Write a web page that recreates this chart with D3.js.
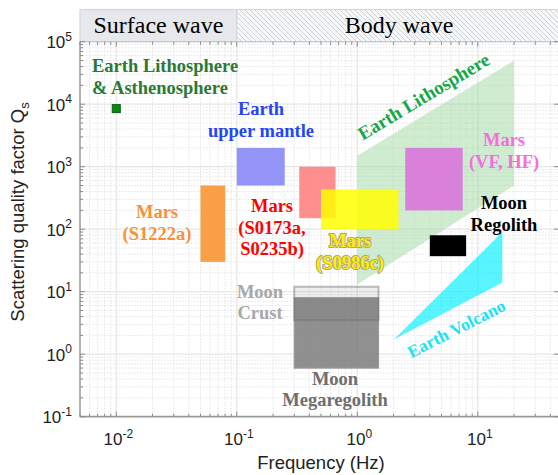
<!DOCTYPE html>
<html>
<head>
<meta charset="utf-8">
<script src="https://cdn.jsdelivr.net/npm/d3@7"></script>
<style>
  html, body { margin: 0; padding: 0; background: #fff; }
  svg { display: block; }
</style>
</head>
<body>
<svg id="chart" width="558" height="475"></svg>
<script>
// Frequency bands (Hz) and Qs ranges for each study
const rectNames = ["Earth upper mantle", "Mars (S1222a)", "Mars (S0173a, S0235b)", "Mars (S0986c)", "Mars (VF, HF)", "Moon Regolith", "Moon Megaregolith", "Moon Crust"];
const rectFreq = [[0.1, 0.25], [0.05, 0.08], [0.33, 0.66], [0.5, 2.2], [2.5, 7.5], [4, 8], [0.3, 1.5], [0.3, 1.5]];
const rectQ = [[500, 2000], [30, 500], [150, 1000], [100, 430], [200, 2000], [37, 80], [0.6, 8], [3.5, 12]];
const rectColors = ["#9494f8", "#f99a3c", "#ff7a7a", "#ffff00", "#d97adb", "#000000", "#7d7d7d", "#5a5a5a"];
const rectOpacity = [1, 0.95, 0.85, 0.85, 0.95, 1, 0.85, 0.1];

// Earth lithosphere band (frequency, Qs) polygon
const lithoFreq = [1, 20, 20, 1];
const lithoQ = [1500, 50000, 500, 13];
// Earth volcano wedge
const volcFreq = [2, 16, 16];
const volcQ = [1.7, 90, 14];
// Earth lithosphere & asthenosphere surface-wave point
const pointFreq = [0.01];
const pointQ = [8500];

const xDecades = [0.01, 0.1, 1, 10];
const xDecadeExp = ["-2", "-1", "0", "1"];
const yDecades = [0.1, 1, 10, 100, 1000, 10000, 100000];
const yDecadeExp = ["-1", "0", "1", "2", "3", "4", "5"];

const svg = d3.select("#chart");
const L = 80, R = 562, T = 41.7, B = 416.7;
const x = d3.scaleLog().domain([0.005, 50]).range([L, R]);
const y = d3.scaleLog().domain([0.1, 100000]).range([B, T]);

// minor tick values
const xMinor = [];
[0.001, 0.01, 0.1, 1, 10].forEach(d => { for (let k = 2; k <= 9; k++) { const v = d * k; if (v >= 0.005 && v <= 50) xMinor.push(v); } });
const yMinor = [];
[0.1, 1, 10, 100, 1000, 10000].forEach(d => { for (let k = 2; k <= 9; k++) yMinor.push(d * k); });

const defs = svg.append("defs");
const pat = defs.append("pattern").attr("id", "hatch").attr("patternUnits", "userSpaceOnUse")
  .attr("width", 5).attr("height", 5);
pat.append("rect").attr("width", 5).attr("height", 5).attr("fill", "#f6f7f8");
pat.append("path").attr("d", "M-1,4 l2,2 M0,0 l5,5 M4,-1 l2,2")
  .attr("stroke", "#c9cdd3").attr("stroke-width", 0.9);
defs.append("clipPath").attr("id", "plotclip").append("rect")
  .attr("x", L).attr("y", T).attr("width", R - L).attr("height", B - T);

// header band: surface wave / body wave
const serif = "Liberation Serif, Times New Roman, serif";
const headTop = 9.5;
svg.append("rect").attr("x", L).attr("y", headTop).attr("width", x(0.1) - L).attr("height", T - headTop)
  .attr("fill", "#e6e8ec").attr("stroke", "#d3d7dd").attr("stroke-width", 1.2);
svg.append("rect").attr("x", x(0.1)).attr("y", headTop).attr("width", R - x(0.1)).attr("height", T - headTop)
  .attr("fill", "url(#hatch)").attr("stroke", "#d3d7dd").attr("stroke-width", 1.2);
svg.append("text").attr("x", (L + x(0.1)) / 2).attr("y", 33).attr("text-anchor", "middle")
  .attr("font-family", serif).attr("font-size", 24).text("Surface wave");
svg.append("text").attr("x", 399).attr("y", 33).attr("text-anchor", "middle")
  .attr("font-family", serif).attr("font-size", 24).text("Body wave");

// grid
const grid = svg.append("g").attr("clip-path", "url(#plotclip)");
grid.selectAll("line.xm").data(xMinor).join("line")
  .attr("x1", d => x(d)).attr("x2", d => x(d)).attr("y1", T).attr("y2", B)
  .attr("stroke", "#e4e4e4").attr("stroke-dasharray", "1.5,1.5");
grid.selectAll("line.ym").data(yMinor).join("line")
  .attr("y1", d => y(d)).attr("y2", d => y(d)).attr("x1", L).attr("x2", R)
  .attr("stroke", "#e4e4e4").attr("stroke-dasharray", "1.5,1.5");
grid.selectAll("line.xM").data(xDecades).join("line")
  .attr("x1", d => x(d)).attr("x2", d => x(d)).attr("y1", T).attr("y2", B)
  .attr("stroke", "#e6e6e6").attr("stroke-width", 1.3);
grid.selectAll("line.yM").data(yDecades).join("line")
  .attr("y1", d => y(d)).attr("y2", d => y(d)).attr("x1", L).attr("x2", R)
  .attr("stroke", "#e6e6e6").attr("stroke-width", 1.3);

const marks = svg.append("g").attr("clip-path", "url(#plotclip)");
const poly = (fs, qs) => fs.map((f, i) => [x(f), y(qs[i])].join(",")).join(" ");

// Earth lithosphere band
marks.append("polygon").attr("points", poly(lithoFreq, lithoQ))
  .attr("fill", "#a9dca9").attr("opacity", 0.55);

// rectangles
const rectOrder = [0, 1, 2, 3, 4, 5];
marks.selectAll("rect.study").data(rectOrder).join("rect")
  .attr("x", i => x(rectFreq[i][0])).attr("width", i => x(rectFreq[i][1]) - x(rectFreq[i][0]))
  .attr("y", i => y(rectQ[i][1])).attr("height", i => y(rectQ[i][0]) - y(rectQ[i][1]))
  .attr("fill", i => rectColors[i]).attr("opacity", i => rectOpacity[i]);

// Earth volcano wedge
marks.append("polygon").attr("points", poly(volcFreq, volcQ))
  .attr("fill", "#00f0ff").attr("opacity", 0.65);

// Moon megaregolith and crust
const mg = 6, cr = 7;
marks.append("rect").attr("x", x(rectFreq[mg][0])).attr("width", x(rectFreq[mg][1]) - x(rectFreq[mg][0]))
  .attr("y", y(rectQ[mg][1])).attr("height", y(rectQ[mg][0]) - y(rectQ[mg][1]))
  .attr("fill", rectColors[mg]).attr("opacity", rectOpacity[mg])
  .attr("stroke", "#888").attr("stroke-width", 1.2);
marks.append("rect").attr("x", x(rectFreq[cr][0])).attr("width", x(rectFreq[cr][1]) - x(rectFreq[cr][0]))
  .attr("y", y(rectQ[cr][1])).attr("height", y(rectQ[cr][0]) - y(rectQ[cr][1]))
  .attr("fill", rectColors[cr]).attr("fill-opacity", rectOpacity[cr])
  .attr("stroke", "#6f6f6f").attr("stroke-opacity", 0.45).attr("stroke-width", 2);

// surface-wave point
marks.selectAll("rect.pt").data(pointFreq).join("rect")
  .attr("x", (d, i) => x(d) - 4).attr("y", (d, i) => y(pointQ[i]) - 4)
  .attr("width", 8).attr("height", 8).attr("fill", "#0a8a0a").attr("stroke", "#0b5e1a").attr("stroke-width", 1);

// axes lines and ticks
const axG = svg.append("g");
axG.append("line").attr("x1", L).attr("x2", L).attr("y1", T).attr("y2", B).attr("stroke", "#9a9a9a").attr("stroke-width", 1.5);
axG.append("line").attr("x1", L).attr("x2", R).attr("y1", B).attr("y2", B).attr("stroke", "#9a9a9a").attr("stroke-width", 1.8);
axG.append("line").attr("x1", L).attr("x2", R).attr("y1", T).attr("y2", T).attr("stroke", "#c5c5c5").attr("stroke-width", 1);
axG.append("line").attr("x1", 559).attr("x2", 559).attr("y1", T).attr("y2", B).attr("stroke", "#b5b5b5").attr("stroke-width", 1);

const tickLine = (g, data, len, horiz) => {
  g.selectAll(null).data(data).join("line")
    .attr("stroke", "#8a8a8a").attr("stroke-width", 1)
    .each(function (d) {
      const s = d3.select(this);
      if (horiz) s.attr("x1", x(d)).attr("x2", x(d)).attr("y1", B).attr("y2", B - len);
      else s.attr("y1", y(d)).attr("y2", y(d)).attr("x1", L).attr("x2", L + len);
    });
};
tickLine(axG, xDecades, 5, true);
tickLine(axG, xMinor, 3, true);
tickLine(axG, yDecades, 5, false);
tickLine(axG, yMinor, 3, false);
// top and right ticks
axG.selectAll(null).data(xDecades.concat(xMinor)).join("line")
  .attr("x1", d => x(d)).attr("x2", d => x(d)).attr("y1", T).attr("y2", d => T + (xDecades.includes(d) ? 5 : 3))
  .attr("stroke", "#8a8a8a");
axG.selectAll(null).data(yDecades).join("line")
  .attr("y1", d => y(d)).attr("y2", d => y(d)).attr("x1", 559).attr("x2", 554)
  .attr("stroke", "#8a8a8a");

// tick labels
const sans = "Liberation Sans, Arial, Helvetica, sans-serif";
const xl = svg.append("g").attr("font-family", sans).attr("fill", "#222");
xDecades.forEach((d, i) => {
  const t = xl.append("text").attr("x", x(d) + 2).attr("y", 445).attr("text-anchor", "middle").attr("font-size", 17);
  t.append("tspan").text("10");
  t.append("tspan").attr("dy", -7.5).attr("font-size", 12).text(xDecadeExp[i]);
});
yDecades.forEach((d, i) => {
  const t = xl.append("text").attr("x", 72).attr("y", y(d) + 6.5).attr("text-anchor", "end").attr("font-size", 17);
  t.append("tspan").text("10");
  t.append("tspan").attr("dy", -7.5).attr("font-size", 12).text(yDecadeExp[i]);
});

// axis titles
svg.append("text").attr("x", 321).attr("y", 469).attr("text-anchor", "middle")
  .attr("font-family", sans).attr("font-size", 18.5).attr("fill", "#222").text("Frequency (Hz)");
const yt = svg.append("text").attr("transform", "translate(24,212) rotate(-90)").attr("text-anchor", "middle")
  .attr("font-family", sans).attr("font-size", 18.5).attr("fill", "#222");
yt.append("tspan").text("Scattering quality factor Q");
yt.append("tspan").attr("dy", 5).attr("font-size", 13).text("s");

// annotations
const labels = [
  { lines: ["Earth Lithosphere", "& Asthenosphere"], x: 92, y: 72, anchor: "start", color: "#2b7a33", dy: 21.5 },
  { lines: ["Earth", "upper mantle"], x: 261, y: 115, anchor: "middle", color: "#2446f5", dy: 21.5 },
  { lines: ["Mars", "(S1222a)"], x: 157, y: 218, anchor: "middle", color: "#f7913a", dy: 21.5 },
  { lines: ["Mars", "(S0173a,", "S0235b)"], x: 272, y: 212, anchor: "middle", color: "#ff0000", dy: 21.5 },
  { lines: ["Mars", "(S0986c)"], x: 350, y: 247, anchor: "middle", color: "#ffee00", dy: 21.5, halo: true },
  { lines: ["Mars", "(VF, HF)"], x: 504, y: 146, anchor: "middle", color: "#f46ee0", dy: 21.5 },
  { lines: ["Moon", "Regolith"], x: 504, y: 209, anchor: "middle", color: "#000000", dy: 21.5 },
  { lines: ["Moon", "Crust"], x: 260, y: 298, anchor: "middle", color: "#a8a8a8", dy: 21 },
  { lines: ["Moon", "Megaregolith"], x: 335, y: 385, anchor: "middle", color: "#6e6e6e", dy: 21 }
];
labels.forEach(lb => {
  const t = svg.append("text").attr("font-family", serif).attr("font-weight", "bold").attr("font-size", 18.5)
    .attr("text-anchor", lb.anchor).attr("fill", lb.color);
  if (lb.halo) t.attr("stroke", "#a9a48a").attr("stroke-width", 2).attr("paint-order", "stroke").attr("stroke-linejoin", "round");
  lb.lines.forEach((s, i) => t.append("tspan").attr("x", lb.x).attr("y", lb.y + i * lb.dy).text(s));
});
svg.append("text").attr("transform", "translate(427,102) rotate(-31)").attr("text-anchor", "middle")
  .attr("font-family", serif).attr("font-weight", "bold").attr("font-size", 19).attr("fill", "#14a84a")
  .text("Earth Lithosphere");
svg.append("text").attr("transform", "translate(459,334) rotate(-27)").attr("text-anchor", "middle")
  .attr("font-family", serif).attr("font-weight", "bold").attr("font-size", 17.5).attr("fill", "#19e3f5")
  .text("Earth Volcano");
</script>
</body>
</html>
